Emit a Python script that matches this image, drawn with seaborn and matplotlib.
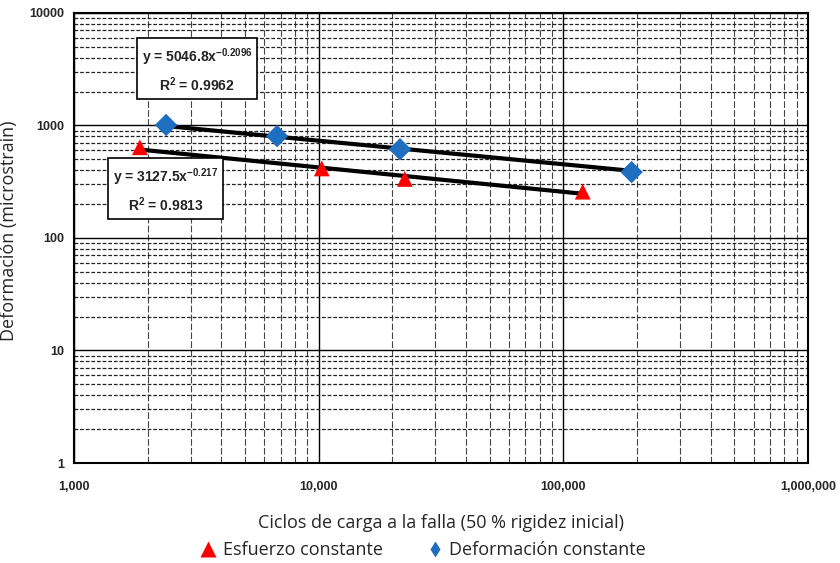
import numpy as np
import pandas as pd
import matplotlib
matplotlib.use("Agg")
import matplotlib.pyplot as plt
import seaborn as sns
from matplotlib.ticker import FixedLocator, FixedFormatter, NullFormatter, LogLocator

# Data
esf_x = [1860, 10300, 22500, 120000]
esf_y = [640, 415, 335, 258]
def_x = [2380, 6760, 21500, 190000]
def_y = [1010, 805, 615, 385]
series_names = ["Esfuerzo constante", "Deformación constante"]
fit_esf = (3127.5, -0.217, 0.9813)
fit_def = (5046.8, -0.2096, 0.9962)
x_ticks = [1000, 10000, 100000, 1000000]
x_labels = ["1,000", "10,000", "100,000", "1,000,000"]
y_ticks = [1, 10, 100, 1000, 10000]
y_labels = ["1", "10", "100", "1000", "10000"]

sns.set_style("white")
plt.rcParams['font.family'] = ['Liberation Sans', 'DejaVu Sans']
plt.rcParams['mathtext.default'] = 'regular'

df = pd.DataFrame({
    "x": esf_x + def_x,
    "y": esf_y + def_y,
    "serie": [series_names[0]] * len(esf_x) + [series_names[1]] * len(def_x),
})

fig = plt.figure(figsize=(8.4, 5.63), dpi=100)
ax = fig.add_axes([0.088, 0.1776, 0.874, 0.7994])
ax.set_xscale("log")
ax.set_yscale("log")
ax.set_xlim(1000, 1000000)
ax.set_ylim(1, 10000)

# grid
ax.xaxis.set_minor_locator(LogLocator(base=10, subs=np.arange(2, 10)))
ax.yaxis.set_minor_locator(LogLocator(base=10, subs=np.arange(2, 10)))
ax.grid(which="major", color="black", lw=1.0, ls="-")
ax.grid(which="minor", axis="x", color="#444444", lw=0.8, ls=(0, (6, 2)))
ax.grid(which="minor", axis="y", color="#222222", lw=0.9, ls=(0, (3, 1.5)))
ax.set_axisbelow(True)

# trend lines
for (a, b, r2), xs in [(fit_esf, esf_x), (fit_def, def_x)]:
    xx = np.logspace(np.log10(min(xs)), np.log10(max(xs)), 50)
    sns.lineplot(x=xx, y=a * xx ** b, ax=ax, color="black", lw=3, legend=False, zorder=3)

sns.scatterplot(data=df, x="x", y="y", hue="serie", style="serie",
                palette={series_names[0]: "#ff0000", series_names[1]: "#1f6fc0"},
                markers={series_names[0]: "^", series_names[1]: "D"},
                s=130, edgecolor="none", ax=ax, zorder=4, legend=True)

# equation boxes
box = dict(boxstyle="square,pad=0.35", fc="white", ec="black", lw=1.2)
ax.text(0.1676, 0.873, f"y = {fit_def[0]}x$^{{{fit_def[1]}}}$\nR$^2$ = {fit_def[2]}",
        transform=ax.transAxes, ha="center", va="center", fontsize=10,
        fontweight="bold", color="#222222", bbox=box, zorder=6, linespacing=1.5)
ax.text(0.1253, 0.6067, f"y = {fit_esf[0]}x$^{{{fit_esf[1]}}}$\nR$^2$ = {fit_esf[2]}",
        transform=ax.transAxes, ha="center", va="center", fontsize=10,
        fontweight="bold", color="#222222", bbox=box, zorder=6, linespacing=1.5)

ax.xaxis.set_major_locator(FixedLocator(x_ticks))
ax.xaxis.set_major_formatter(FixedFormatter(x_labels))
ax.xaxis.set_minor_formatter(NullFormatter())
ax.yaxis.set_major_locator(FixedLocator(y_ticks))
ax.yaxis.set_major_formatter(FixedFormatter(y_labels))
ax.yaxis.set_minor_formatter(NullFormatter())
ax.tick_params(axis="x", which="major", labelsize=9, length=3, width=1, pad=10)
ax.tick_params(axis="y", which="major", labelsize=9, length=3, width=1, pad=4)
ax.tick_params(axis="both", which="minor", length=2, width=0.8)
for lbl in ax.get_xticklabels() + ax.get_yticklabels():
    lbl.set_fontweight("bold")
for s in ax.spines.values():
    s.set_color("black")
    s.set_linewidth(1.5)

ax.set_xlabel("Ciclos de carga a la falla (50 % rigidez inicial)", fontsize=13,
              family="Open Sans")
ax.xaxis.set_label_coords(0.5, -0.113)
ax.set_ylabel("Deformación (microstrain)", fontsize=13, family="Open Sans")
ax.yaxis.set_label_coords((18 - 74) / 734.0, 0.515)

leg = ax.legend(loc="center", bbox_to_anchor=(0.475, (563 - 550 - 100) / 450.0), ncol=2,
                frameon=False, prop={"family": "Open Sans", "size": 13},
                handletextpad=0.3, columnspacing=2.4, handlelength=1.0)
hs = leg.legend_handles
hs[0].set_markersize(11)
hs[1].set_marker("d")
hs[1].set_markersize(8.5)

fig.savefig("out.png", dpi=100)
